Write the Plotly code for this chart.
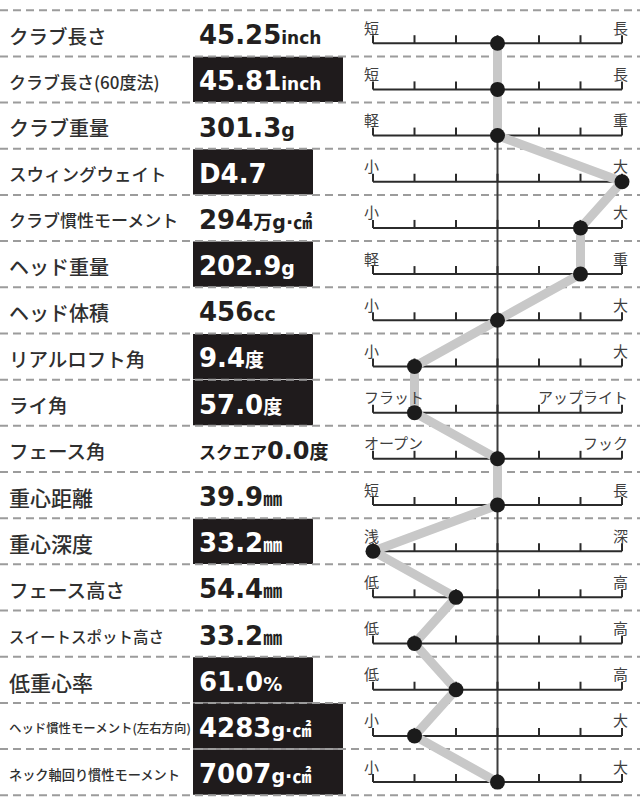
import plotly.graph_objects as go

# ---------------- data ----------------
item_names = [
    "クラブ長さ", "クラブ長さ(60度法)", "クラブ重量", "スウィングウェイト",
    "クラブ慣性モーメント", "ヘッド重量", "ヘッド体積", "リアルロフト角",
    "ライ角", "フェース角", "重心距離", "重心深度", "フェース高さ",
    "スイートスポット高さ", "低重心率", "ヘッド慣性モーメント(左右方向)",
    "ネック軸回り慣性モーメント",
]
value_prefix = ["", "", "", "", "", "", "", "", "", "スクエア", "", "", "", "", "", "", ""]
value_number = ["45.25", "45.81", "301.3", "D4.7", "294", "202.9", "456", "9.4",
                "57.0", "0.0", "39.9", "33.2", "54.4", "33.2", "61.0", "4283", "7007"]
value_unit = ["inch", "inch", "g", "", "万g·㎠", "g", "cc", "度", "度", "度",
              "㎜", "㎜", "㎜", "㎜", "%", "g·㎠", "g·㎠"]
highlighted = [0, 1, 0, 1, 0, 1, 0, 1, 1, 0, 0, 1, 0, 0, 1, 1, 1]
wide_box = [0, 1, 0, 0, 0, 0, 0, 0, 0, 0, 0, 0, 0, 0, 0, 1, 1]
scores = [0, 0, 0, 3, 2, 2, 0, -2, -2, 0, 0, -3, -1, -2, -1, -2, 0]
low_labels = ["短", "短", "軽", "小", "小", "軽", "小", "小", "フラット", "オープン",
              "短", "浅", "低", "低", "低", "小", "小"]
high_labels = ["長", "長", "重", "大", "大", "重", "大", "大", "アップライト", "フック",
               "長", "深", "高", "高", "高", "大", "大"]
scale_ticks = [-3, -2, -1, 0, 1, 2, 3]
name_sizes = [19.5, 17, 20, 17.5, 17, 20, 20, 19.5, 19.5, 19.5, 21, 21, 19.5, 15.5, 21, 12.4, 13.2]

# ---------------- geometry ----------------
W, H = 640, 803
ROW0_AXIS_PX = 43.2
PITCH = 46.18
SCALE_L, SCALE_R = 373.0, 622.0
ppu = (SCALE_R - SCALE_L) / 6.0
xc = (SCALE_L + SCALE_R) / 2.0
x_range = [(0 - xc) / ppu, (W - xc) / ppu]
y_range = [(H - ROW0_AXIS_PX) / PITCH, (0 - ROW0_AXIS_PX) / PITCH]
TOP_OFF = 33.0 / PITCH
n = len(item_names)
rows = list(range(n))

JP = "Noto Sans CJK JP"
NUM = "DejaVu Sans, Noto Sans CJK JP"

fig = go.Figure()
fig.add_trace(go.Scatter(
    x=scores, y=rows, mode="lines+markers",
    line=dict(color="#c8c8c8", width=9),
    marker=dict(size=15, color="#1b1b1b"),
    hoverinfo="skip", showlegend=False,
))

shapes = []
# black boxes
for i in rows:
    if highlighted[i]:
        right = 343 if wide_box[i] else 313
        shapes.append(dict(type="rect", xref="paper", yref="y",
                           x0=193 / W, x1=right / W,
                           y0=i - TOP_OFF + 0.01, y1=i - TOP_OFF + 0.99,
                           fillcolor="#1f1b1c", line=dict(width=0), layer="below"))
# dashed separators
for i in range(n + 1):
    shapes.append(dict(type="line", xref="paper", yref="y", x0=0, x1=1,
                       y0=i - TOP_OFF, y1=i - TOP_OFF,
                       line=dict(color="#9c9c9c", width=2, dash="8px,5px"), layer="below"))
# center line
shapes.append(dict(type="line", xref="x", yref="y", x0=0, x1=0, y0=0, y1=n - 1,
                   line=dict(color="#3c3c3c", width=2), layer="below"))
# scale axes with ticks
for i in rows:
    shapes.append(dict(type="line", xref="x", yref="y", x0=scale_ticks[0], x1=scale_ticks[-1],
                       y0=i, y1=i, line=dict(color="#2b2b2b", width=2), layer="below"))
    for t in scale_ticks:
        shapes.append(dict(type="line", xref="x", yref="y", x0=t, x1=t,
                           y0=i, y1=i - 8 / PITCH,
                           line=dict(color="#2b2b2b", width=2), layer="below"))

annotations = []
for i in rows:
    yc = i - TOP_OFF + 25 / PITCH
    annotations.append(dict(xref="paper", yref="y", x=7 / W, y=yc, xanchor="left",
                            yanchor="middle", showarrow=False, text=item_names[i],
                            font=dict(family=JP, size=name_sizes[i], color="#2f2f2f",
                                      weight=500)))
    col = "#ffffff" if highlighted[i] else "#231f20"
    txt = ""
    if value_prefix[i]:
        txt += f'<span style="font-size:17px">{value_prefix[i]}</span>'
    big = 24 if value_prefix[i] else 26
    txt += f'<span style="font-size:{big}px">{value_number[i]}</span>'
    if value_unit[i]:
        usize = 17 if value_unit[i] == "inch" else 19
        txt += f'<span style="font-size:{usize}px">{value_unit[i]}</span>'
    annotations.append(dict(xref="paper", yref="y", x=197 / W, y=yc, xanchor="left",
                            yanchor="middle", showarrow=False, text=txt,
                            font=dict(family=NUM, size=26, color=col, weight="bold")))
    yl = i - TOP_OFF + 17 / PITCH
    annotations.append(dict(xref="paper", yref="y", x=362 / W, y=yl, xanchor="left",
                            yanchor="middle", showarrow=False, text=low_labels[i],
                            font=dict(family=JP, size=15, color="#404040")))
    annotations.append(dict(xref="paper", yref="y", x=630 / W, y=yl, xanchor="right",
                            yanchor="middle", showarrow=False, text=high_labels[i],
                            font=dict(family=JP, size=15, color="#404040")))

fig.update_layout(
    width=W, height=H, margin=dict(l=0, r=0, t=0, b=0),
    paper_bgcolor="#ffffff", plot_bgcolor="#ffffff",
    xaxis=dict(range=x_range, visible=False, fixedrange=True),
    yaxis=dict(range=y_range, visible=False, fixedrange=True),
    shapes=shapes, annotations=annotations, showlegend=False,
)
fig.write_html("out.html", config={"displayModeBar": False},
               post_script="document.body.style.margin='0';document.body.style.padding='0';document.body.style.overflow='hidden';")
